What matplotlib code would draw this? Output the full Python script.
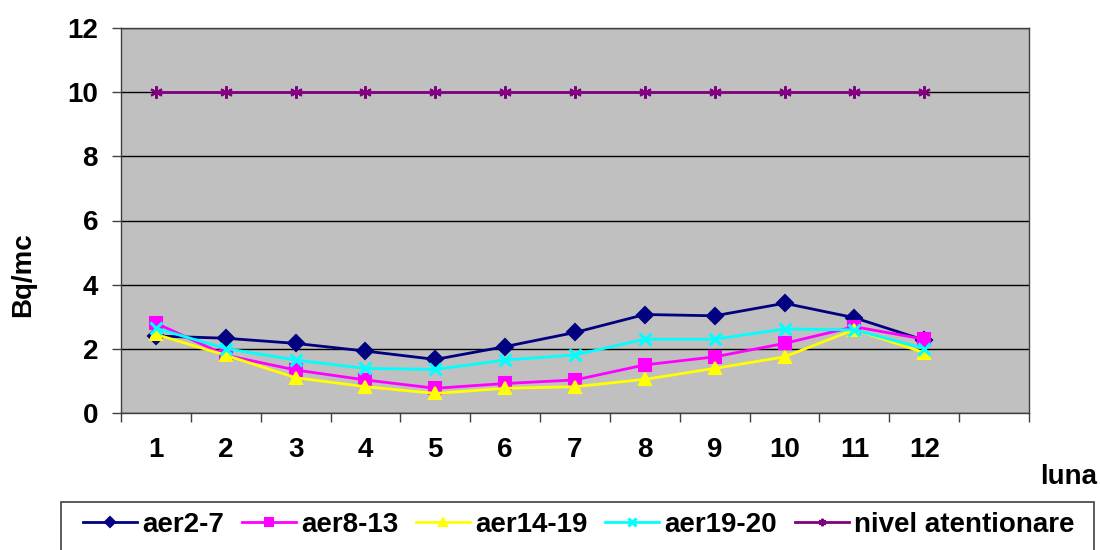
import matplotlib
matplotlib.use("Agg")
import matplotlib.pyplot as plt
from matplotlib.patches import Rectangle
import numpy as np

months = ["1", "2", "3", "4", "5", "6", "7", "8", "9", "10", "11", "12"]
aer2_7 = [2.4, 2.33, 2.17, 1.93, 1.67, 2.07, 2.51, 3.07, 3.03, 3.42, 2.97, 2.27]
aer8_13 = [2.8, 1.8, 1.34, 1.03, 0.77, 0.92, 1.03, 1.5, 1.75, 2.17, 2.69, 2.3]
aer14_19 = [2.45, 1.8, 1.1, 0.82, 0.61, 0.77, 0.82, 1.05, 1.39, 1.75, 2.6, 1.88]
aer19_20 = [2.64, 2.01, 1.65, 1.39, 1.36, 1.65, 1.81, 2.3, 2.3, 2.62, 2.59, 2.01]
nivel = [10] * 12

plt.rcParams['font.family'] = ['Liberation Sans', 'DejaVu Sans']
plt.rcParams['font.weight'] = 'bold'

W, H = 1100, 550
fig = plt.figure(figsize=(11, 5.5), dpi=100)
ax = fig.add_axes([121/W, 1 - 413/H, (1029-121)/W, (413-28)/H])
ax.set_facecolor('#C0C0C0')

x = np.arange(1, len(months) + 1)
series = [
    (aer2_7, 'aer2-7', '#000080', 'D', 8),
    (aer8_13, 'aer8-13', '#FF00FF', 's', 8.5),
    (aer14_19, 'aer14-19', '#FFFF00', '^', 9),
    (aer19_20, 'aer19-20', '#00FFFF', 'x', 9),
    (nivel, 'nivel atentionare', '#800080', (6, 2, 0), 9),
]
for vals, name, col, mk, ms in series:
    ax.plot(x, vals, color=col, marker=mk, markersize=ms, linewidth=2,
            markeredgewidth=2.2 if mk == 'x' else 1.5, markeredgecolor=col,
            markerfacecolor=col, label=name)

ax.set_ylim(0, 12)
ax.set_yticks(np.arange(0, 13, 2))
ax.yaxis.grid(True, color='black', linewidth=1)
ax.set_axisbelow(True)
ax.set_xlim(0.5, 13.5)
ax.set_xticks(x)
ax.set_xticklabels(months)
ax.set_xticks(np.arange(0.5, 14, 1), minor=True)
ax.tick_params(axis='x', which='major', length=0, pad=17, labelsize=20)
ax.tick_params(axis='x', which='minor', length=6.5, width=1, color='#404040')
ax.tick_params(axis='y', length=6.5, width=1, color='#404040', labelsize=20, pad=10)
for s in ax.spines.values():
    s.set_color('#404040')
    s.set_linewidth(1)

fig.text(23/W, 1 - 275/H, 'Bq/mc', fontsize=20, fontweight='bold',
         rotation=90, ha='center', va='center')
fig.text(1097/W, 1 - 477/H, 'luna', fontsize=20, fontweight='bold',
         ha='right', va='center')

# legend frame
fig.patches.append(Rectangle((61/W, -0.05), (1094-61)/W, (0.05 + 1 - 502/H),
                             transform=fig.transFigure, fill=False,
                             edgecolor='#404040', linewidth=1.2))
handles, labels = ax.get_legend_handles_labels()
leg = fig.legend(handles, labels, loc='center left',
                 bbox_to_anchor=(83/W, 1 - 525/H), ncol=5, fontsize=20,
                 frameon=False, handlelength=1.95, handletextpad=0.18,
                 columnspacing=0.64, borderpad=0, borderaxespad=0,
                 markerscale=0.6)

fig.savefig('out.png', dpi=100)
